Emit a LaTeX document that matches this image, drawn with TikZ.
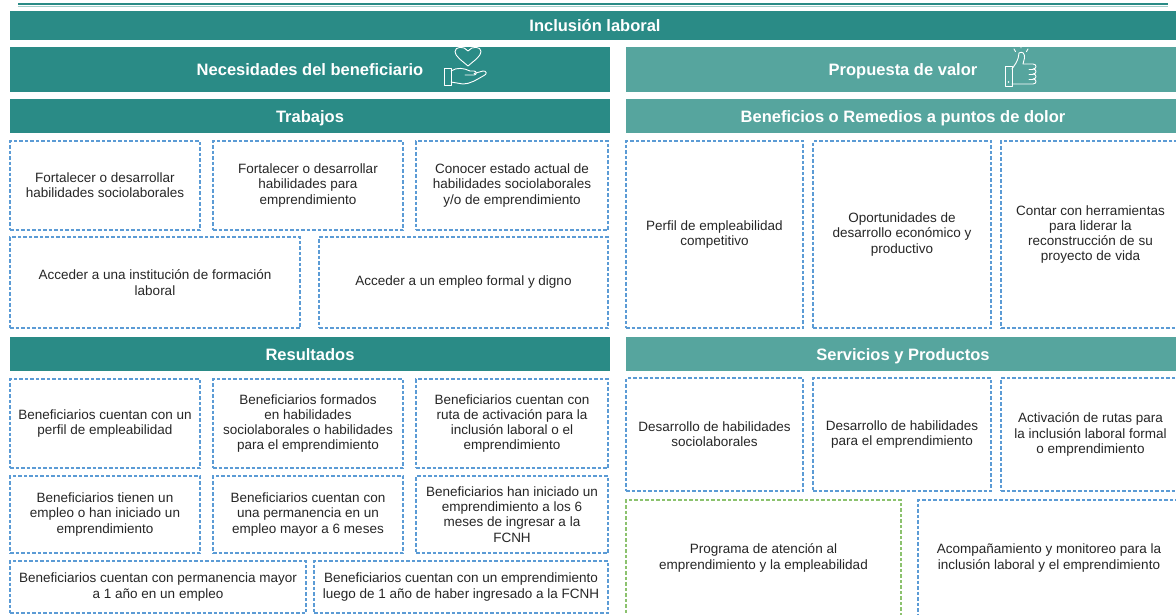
\documentclass[tikz,border=0pt]{standalone}
\usepackage{fontspec}
\setmainfont{Liberation Sans}
\definecolor{tealA}{HTML}{2A8B86}
\definecolor{tealB}{HTML}{56A59E}
\definecolor{dblue}{HTML}{5B9BD5}
\definecolor{dgreen}{HTML}{8CC26E}
\definecolor{txt}{HTML}{262626}
\tikzset{
  bar/.style={fill=#1, draw=none, text=white, font=\fontsize{16.5}{19}\selectfont\bfseries, inner sep=0pt,
    text height=12pt, text depth=0pt},
  dbox/.style={draw=dblue, line width=1.3pt, dash pattern=on 3.5pt off 2pt, align=center, text=txt,
    font=\fontsize{13.5}{15.2}\selectfont, inner sep=0pt},
  gbox/.style={dbox, draw=dgreen},
  icon/.style={draw=white, line width=0.9pt, line join=round, line cap=round},
}
\begin{document}
\begin{tikzpicture}[x=1pt,y=-1pt]
\useasboundingbox (0,0) rectangle (1176,614);
% top rule
\draw[tealA, line width=2pt] (18,4) -- (1168,4);
\draw[tealB!55, line width=1pt] (18,6.5) -- (1168,6.5);
% header bars
\node[bar=tealA, minimum width=1170pt, minimum height=29pt] (title) at (595,25.5) {Inclusión laboral};
\node[bar=tealA, minimum width=600pt, minimum height=45pt] (nec) at (310,69.5) {Necesidades del beneficiario};
\node[bar=tealB, minimum width=554pt, minimum height=45pt] (prop) at (903,69.5) {Propuesta de valor};
\node[bar=tealA, minimum width=600pt, minimum height=34pt] (trab) at (310,116) {Trabajos};
\node[bar=tealB, minimum width=554pt, minimum height=34pt] (bene) at (903,116) {Beneficios o Remedios a puntos de dolor};
\node[bar=tealA, minimum width=600pt, minimum height=34pt] (res) at (310,354) {Resultados};
\node[bar=tealB, minimum width=554pt, minimum height=34pt] (serv) at (903,354) {Servicios y Productos};
% heart-in-hand icon
\draw[icon] (468,66) .. controls (461,60) and (455,56) .. (455,51.5) .. controls (455,46.5) and (464,45.5) .. (468,51) .. controls (472,45.5) and (481,46.5) .. (481,51.5) .. controls (481,56) and (475,60) .. cycle;
\draw[icon] (444,68) rectangle (451,85);
\draw[icon] (451,71) .. controls (457,67) and (464,68) .. (470,71) -- (474,71) .. controls (477,71) and (477,75) .. (474,75) -- (465,75);
\draw[icon] (474,73.5) -- (483,71) .. controls (487,70.5) and (487,74.5) .. (484,75.5) .. controls (476,80) and (470,84) .. (463,84) -- (451,82);
% thumbs-up icon
\draw[icon] (1005,66) rectangle (1012,86);
\fill[white] (1008.5,82) circle (0.9pt);
\draw[icon] (1012,69) -- (1016,63) .. controls (1018,59) and (1019,56) .. (1019,53) .. controls (1022,51) and (1025,53) .. (1024.5,58) -- (1023,64) -- (1033,64)
  .. controls (1037,64) and (1037,69) .. (1033,69) .. controls (1037,69) and (1037,74) .. (1033,74)
  .. controls (1037,74) and (1037,79) .. (1033,79) .. controls (1037,79) and (1037,84) .. (1033,84) -- (1012,84);
\draw[icon] (1029,69) -- (1033,69) (1029,74) -- (1033,74) (1029,79) -- (1033,79);
\draw[icon] (1014,49) -- (1015.5,51.5) (1021,45) -- (1021,48) (1028,49) -- (1026.5,51.5);
% Trabajos
\node[dbox, minimum width=190pt, minimum height=89pt] (t1) at (105,185.5) {Fortalecer o desarrollar\\habilidades sociolaborales};
\node[dbox, minimum width=190pt, minimum height=89pt] (t2) at (308,185.5) {Fortalecer o desarrollar\\habilidades para\\emprendimiento};
\node[dbox, minimum width=192pt, minimum height=89pt] (t3) at (512,185.5) {Conocer estado actual de\\habilidades sociolaborales\\y/o de emprendimiento};
\node[dbox, minimum width=290pt, minimum height=91pt] (t4) at (155,282.5) {Acceder a una institución de formación\\laboral};
\node[dbox, minimum width=289pt, minimum height=91pt] (t5) at (463.5,282.5) {Acceder a un empleo formal y digno};
% Resultados
\node[dbox, minimum width=190pt, minimum height=89pt] (r1) at (105,423.5) {Beneficiarios cuentan con un\\perfil de empleabilidad};
\node[dbox, minimum width=190pt, minimum height=89pt] (r2) at (308,423.5) {Beneficiarios formados\\en habilidades\\sociolaborales o habilidades\\para el emprendimiento};
\node[dbox, minimum width=192pt, minimum height=89pt] (r3) at (512,423.5) {Beneficiarios cuentan con\\ruta de activación para la\\inclusión laboral o el\\emprendimiento};
\node[dbox, minimum width=190pt, minimum height=77pt] (r4) at (105,514.5) {Beneficiarios tienen un\\empleo o han iniciado un\\emprendimiento};
\node[dbox, minimum width=190pt, minimum height=77pt] (r5) at (308,514.5) {Beneficiarios cuentan con\\una permanencia en un\\empleo mayor a 6 meses};
\node[dbox, minimum width=192pt, minimum height=77pt] (r6) at (512,514.5) {Beneficiarios han iniciado un\\emprendimiento a los 6\\meses de ingresar a la\\FCNH};
\node[dbox, minimum width=296pt, minimum height=52pt] (r7) at (158,587) {Beneficiarios cuentan con permanencia mayor\\a 1 año en un empleo};
\node[dbox, minimum width=294pt, minimum height=52pt] (r8) at (461,587) {Beneficiarios cuentan con un emprendimiento\\luego de 1 año de haber ingresado a la FCNH};
% Beneficios
\node[dbox, minimum width=177pt, minimum height=187pt] (b1) at (714.5,234.5) {Perfil de empleabilidad\\competitivo};
\node[dbox, minimum width=178pt, minimum height=187pt] (b2) at (902,234.5) {Oportunidades de\\desarrollo económico y\\productivo};
\node[dbox, minimum width=179pt, minimum height=187pt] (b3) at (1090.5,234.5) {Contar con herramientas\\para liderar la\\reconstrucción de su\\proyecto de vida};
% Servicios
\node[dbox, minimum width=177pt, minimum height=113pt] (s1) at (714.5,434.5) {Desarrollo de habilidades\\sociolaborales};
\node[dbox, minimum width=178pt, minimum height=113pt] (s2) at (902,434.5) {Desarrollo de habilidades\\para el emprendimiento};
\node[dbox, minimum width=179pt, minimum height=113pt] (s3) at (1090.5,434.5) {Activación de rutas para\\la inclusión laboral formal\\o emprendimiento};
\node[gbox, minimum width=275pt, minimum height=116pt] (s4) at (763.5,558) {Programa de atención al\\emprendimiento y la empleabilidad};
\node[dbox, minimum width=262pt, minimum height=116pt] (s5) at (1049,558) {Acompañamiento y monitoreo para la\\inclusión laboral y el emprendimiento};
\end{tikzpicture}
\end{document}
